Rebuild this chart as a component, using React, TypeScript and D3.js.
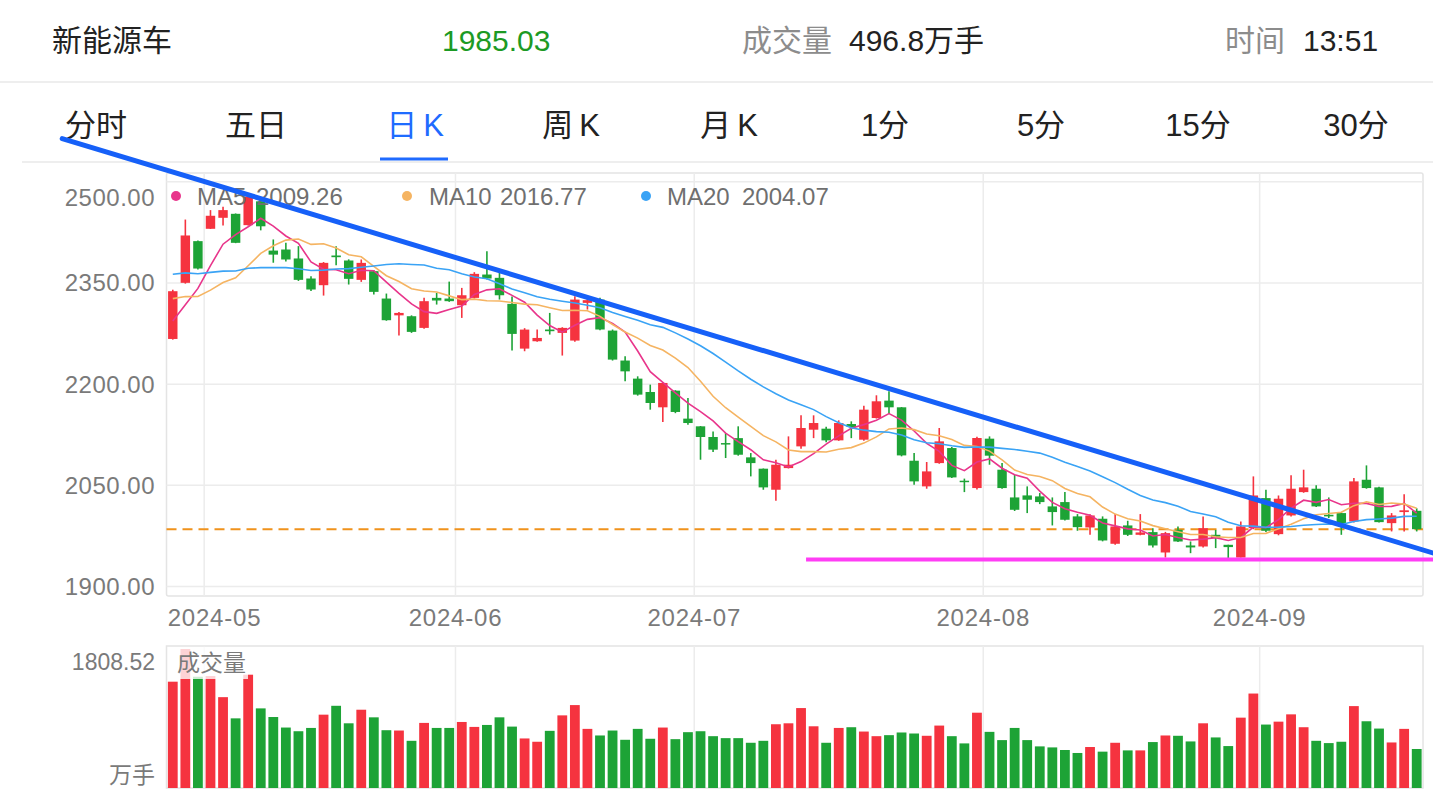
import React from "react";
import * as d3 from "d3";

// ---------- data ----------
const OPEN = [
  2267, 2350.2, 2412, 2430.3, 2446.6, 2452.5, 2435.7, 2471, 2398, 2399.6,
  2386.3, 2356.6, 2346.7, 2390.7, 2383.3, 2354.6, 2367.5, 2326.9, 2302, 2300.7,
  2283.4, 2327.9, 2326.9, 2317, 2327.9, 2362.5, 2357.6, 2319, 2252.7, 2263.6,
  2281, 2276, 2264.6, 2320.5, 2325.4, 2279.4, 2235, 2208.2, 2188.4, 2165.7,
  2190.4, 2148.9, 2137.5, 2121.7, 2112.7, 2120, 2091.5, 2074.7, 2043.5, 2075.6,
  2107.8, 2132.5, 2134, 2116.7, 2140.9, 2117.7, 2149.8, 2175.6, 2165.7, 2086.5,
  2048.5, 2083, 2105.3, 2056.9, 2046, 2119.2, 2073.2, 2032.1, 2035.1, 2033.6,
  2018.8, 2025.2, 2004, 1987.6, 2000.5, 1963.4, 1990.6, 1976.7, 1980.7, 1950.5,
  1984.2, 1960.9, 1959.4, 1976.7, 1961.9, 1943, 1986.6, 2031.1, 1977.7, 2005.4,
  2040, 2045, 2006.4, 2008.9, 1996.5, 2058.3, 2047, 1994, 2010.4, 2012.3,
];
const HIGH = [
  2340, 2444, 2413, 2458, 2463, 2453, 2482, 2475, 2414.5, 2409.5,
  2404.6, 2360, 2381, 2404.6, 2385, 2384.8, 2369, 2334.3, 2307, 2302,
  2328, 2335.3, 2352, 2342.7, 2366, 2397, 2365, 2330, 2283, 2281,
  2305.6, 2284.4, 2330.4, 2328, 2328, 2281, 2241.4, 2211.6, 2199.3, 2203,
  2191, 2179.5, 2138, 2130, 2127.6, 2137.5, 2097.9, 2075, 2088, 2122.6,
  2153.8, 2153.8, 2137, 2146.4, 2144.9, 2168, 2183.5, 2189.4, 2166, 2097.9,
  2084.6, 2135, 2107, 2060, 2122, 2122.6, 2083, 2065.8, 2048.5, 2038.6,
  2032.1, 2040, 2007.4, 2007, 2004, 2007.4, 1997.5, 2007.4, 1986.6, 1981,
  1989, 1966.8, 2004, 1984, 1962, 1996.5, 2063.3, 2043.5, 2035, 2064.8,
  2073.2, 2050, 2032.1, 2010, 2060.8, 2079.6, 2048, 2008.9, 2037, 2016,
];
const LOW = [
  2266, 2349, 2370, 2430, 2435, 2409, 2435, 2428, 2380, 2382,
  2353, 2338, 2331.3, 2376.4, 2347.7, 2351.6, 2332.8, 2294, 2272, 2276,
  2282, 2318, 2322, 2298.2, 2327, 2355, 2325.4, 2249.8, 2248.8, 2263,
  2273.5, 2242.4, 2263, 2310.6, 2280, 2235, 2204.2, 2183, 2162.2, 2143.9,
  2157, 2140, 2088, 2099.4, 2090.5, 2094, 2063.3, 2043.5, 2027.2, 2075,
  2104.3, 2120, 2114, 2116, 2120, 2116, 2149, 2155.8, 2093, 2051,
  2045, 2082, 2061, 2040, 2044, 2080.6, 2045, 2012, 2008.9, 2022.2,
  1990.6, 1998, 1982.7, 1976.7, 1967, 1962, 1975, 1976, 1958, 1943,
  1966, 1949.5, 1958, 1957, 1942, 1943, 1985, 1981, 1976, 2004,
  2039, 2018, 2001.5, 1976.7, 1995, 2045, 1995, 1981.7, 1981.7, 1981.7,
];
const CLOSE = [
  2337.8, 2420.4, 2371.4, 2449.6, 2458, 2409.5, 2478, 2434, 2392, 2384.8,
  2354.6, 2340.3, 2379.8, 2388.2, 2356.1, 2379.8, 2336.8, 2294.8, 2305.6, 2277.5,
  2323, 2324, 2323, 2331.8, 2363.5, 2356.6, 2331.8, 2274.5, 2280.9, 2268.5,
  2278.5, 2283.4, 2325.4, 2324.5, 2281, 2236.4, 2219, 2184.5, 2172.1, 2201.8,
  2158.8, 2142.4, 2121.7, 2102.9, 2111.2, 2095.4, 2083, 2047, 2080.6, 2080.6,
  2135, 2142.4, 2116.7, 2142.4, 2136.5, 2162.2, 2174.6, 2165.7, 2094.4, 2055.9,
  2070.7, 2115.2, 2061.8, 2055, 2120.2, 2094, 2046, 2013.8, 2028.7, 2025.2,
  2010.4, 1999, 1988.1, 2005.4, 1968.3, 1989.1, 1976.7, 1980.2, 1960.9, 1979.2,
  1966.8, 1958, 1986.6, 1971.8, 1958.5, 1989.1, 2035, 1982.7, 2030.2, 2045,
  2047, 2018.8, 2004, 1991.6, 2055.9, 2046, 1995.5, 2005.4, 2013, 1985.03,
];
// closes of the 19 sessions before the visible window (for the moving averages)
const PRE_CLOSES = [
  2380, 2395, 2410, 2420, 2405, 2400, 2415, 2390, 2385, 2390,
  2390, 2370, 2355, 2345, 2340, 2300, 2250, 2280, 2300,
];
const VOLUME = [
  1354, 1770, 1417, 1426, 1157, 887, 1443, 1014, 904, 770,
  723, 765, 934, 1047, 824, 997, 900, 736, 732, 601,
  829, 765, 765, 841, 778, 803, 900, 782, 631, 589,
  728, 925, 1056, 753, 669, 732, 614, 753, 627, 770,
  622, 711, 723, 660, 635, 635, 576, 601, 812, 824,
  1018, 786, 576, 765, 774, 719, 660, 673, 707, 694,
  665, 795, 660, 568, 959, 715, 610, 765, 610, 530,
  517, 484, 446, 522, 463, 576, 479, 479, 585, 669,
  665, 593, 824, 644, 534, 896, 1203, 808, 845, 938,
  774, 601, 572, 589, 1043, 850, 757, 580, 753, 496.8,
];
const VOL_MAX = 1808.52;
const PRICE_TICKS = [1900, 2050, 2200, 2350, 2500];
const MONTH_LABELS = ["2024-05", "2024-06", "2024-07", "2024-08", "2024-09"];
const MONTH_START = [3, 23, 42, 65, 87];
const MA_PERIODS = [5, 10, 20];
const MA_LEGEND_VALUES = ["2009.26", "2016.77", "2004.07"];
const TABS = ["分时", "五日", "日K", "周K", "月K", "1分", "5分", "15分", "30分"];
const ACTIVE_TAB = 2;
const STOCK_NAME = "新能源车";
const LAST_PRICE = 1985.03;
const LAST_VOLUME_TEXT = "496.8万手";
const TIME_TEXT = "13:51";
// user-drawn lines (data coordinates: candle index, price)
const TREND_ANCHORS = [
  { i: 7, p: 2475 },
  { i: 57, p: 2193.5 },
];
const TREND_EXTENT = [-8.8, 100.5];
const SUPPORT_PRICE = 1940;
const SUPPORT_START = 50.4;

// ---------- styles ----------
const RED = "#f5333f";
const GREEN = "#1da336";
const GRID = "#ececec";
const BORDER = "#e4e4e4";
const AXIS_TEXT = "#7a7a7a";
const MA_COLORS = ["#e8358b", "#f5b462", "#3aa3f5"];
const FONT = "'Liberation Sans', Arial, 'Noto Sans CJK SC', sans-serif";

export default function App() {
  const W = 1433;
  const H = 799;
  const N = CLOSE.length;
  const left = 166.5;
  const right = 1423;

  const x = d3.scaleBand<number>().domain(d3.range(N)).range([left, right]).padding(0);
  const bw = x.bandwidth();
  const cx = (i: number) => (x(0) as number) + bw * (i + 0.5);
  const y = d3.scaleLinear().domain([1886, 2513]).range([596, 173]);
  const yv = d3.scaleLinear().domain([0, VOL_MAX]).range([788, 646]);

  const allCloses = [...PRE_CLOSES, ...CLOSE];
  const off = PRE_CLOSES.length;
  const maSeries = MA_PERIODS.map((n) =>
    CLOSE.map((_, i) => d3.mean(allCloses.slice(i + off - n + 1, i + off + 1)) as number)
  );
  const line = d3
    .line<number>()
    .x((_, i) => cx(i))
    .y((d) => y(d))
    .curve(d3.curveLinear);

  const bodyW = bw * 0.75;
  const volW = bw * 0.78;

  // trend line extrapolation
  const [a, b] = TREND_ANCHORS;
  const slope = (b.p - a.p) / (b.i - a.i);
  const trendP = (i: number) => a.p + slope * (i - a.i);

  const tabCenters = [96, 256, 415, 571, 729, 885, 1041, 1198, 1356];

  return (
    <div style={{ position: "absolute", left: 0, top: 0, background: "#fff" }}>
      <svg width={W} height={H} style={{ display: "block", fontFamily: FONT }}>
        <rect x={0} y={0} width={W} height={H} fill="#fff" />

        {/* header */}
        <g fontSize={30}>
          <text x={52} y={51} fill="#222">{STOCK_NAME}</text>
          <text x={442} y={51} fill="#1c9a24">{LAST_PRICE.toFixed(2)}</text>
          <text x={742} y={51} fill="#8c8c8c">成交量</text>
          <text x={849} y={51} fill="#222">{LAST_VOLUME_TEXT}</text>
          <text x={1225} y={51} fill="#8c8c8c">时间</text>
          <text x={1303} y={51} fill="#222">{TIME_TEXT}</text>
        </g>
        <line x1={0} x2={W} y1={82} y2={82} stroke="#eeeeee" strokeWidth={2} />

        {/* tabs */}
        <g fontSize={31}>
          {TABS.map((t, i) => {
            const isK = t.endsWith("K");
            return (
              <text
                key={t}
                x={tabCenters[i]}
                y={136}
                textAnchor="middle"
                fill={i === ACTIVE_TAB ? "#1f6bff" : "#222"}
              >
                {isK ? (
                  <>
                    <tspan>{t.slice(0, -1)}</tspan>
                    <tspan dx={6}>K</tspan>
                  </>
                ) : (
                  t
                )}
              </text>
            );
          })}
        </g>
        <rect x={380} y={157.5} width={68} height={3} fill="#1f6bff" />
        <line x1={22} x2={W} y1={162} y2={162} stroke="#eeeeee" strokeWidth={2} />

        {/* price panel frame & grid */}
        <rect x={left} y={173} width={right - left} height={596 - 173} fill="none" stroke={BORDER} strokeWidth={1.5} rx={2} />
        {PRICE_TICKS.map((p) => (
          <line key={p} x1={left} x2={right} y1={y(p)} y2={y(p)} stroke={GRID} strokeWidth={1.5} />
        ))}
        {MONTH_START.map((s) => (
          <line key={"vg" + s} x1={x(s)} x2={x(s)} y1={173} y2={596} stroke={GRID} strokeWidth={1.5} />
        ))}

        {/* price axis labels */}
        <g fontSize={24} fill={AXIS_TEXT} textAnchor="end" letterSpacing={0.5}>
          {PRICE_TICKS.map((p) => {
            const yy = p === 2500 ? y(p) + 16 : y(p);
            return (
              <text key={p} x={155} y={yy + 8.5}>
                {p.toFixed(2)}
              </text>
            );
          })}
        </g>

        {/* date labels */}
        <g fontSize={24} fill={AXIS_TEXT} letterSpacing={0.8}>
          {MONTH_START.map((s, k) => {
            const half = 48;
            let c = x(s) as number;
            if (c - half < left) c = left + half;
            if (c + half > right) c = right - half;
            return (
              <text key={MONTH_LABELS[k]} x={c} y={626} textAnchor="middle">
                {MONTH_LABELS[k]}
              </text>
            );
          })}
        </g>

        {/* current price dashed line */}
        <line
          x1={left}
          x2={right}
          y1={y(LAST_PRICE)}
          y2={y(LAST_PRICE)}
          stroke="#f0921c"
          strokeWidth={2}
          strokeDasharray="10 6"
        />

        {/* candles */}
        {CLOSE.map((c, i) => {
          const o = OPEN[i];
          const up = c >= o;
          const col = up ? RED : GREEN;
          const top = y(Math.max(o, c));
          const h = Math.max(1.5, Math.abs(y(o) - y(c)));
          return (
            <g key={"c" + i}>
              <line x1={cx(i)} x2={cx(i)} y1={y(HIGH[i])} y2={y(LOW[i])} stroke={col} strokeWidth={1.6} />
              <rect x={cx(i) - bodyW / 2} y={top} width={bodyW} height={h} fill={col} />
            </g>
          );
        })}

        {/* moving averages */}
        {maSeries.map((s, k) => (
          <path key={"ma" + k} d={line(s) || ""} fill="none" stroke={MA_COLORS[k]} strokeWidth={1.6} />
        ))}

        {/* support line */}
        <line
          x1={cx(SUPPORT_START)}
          x2={W}
          y1={y(SUPPORT_PRICE)}
          y2={y(SUPPORT_PRICE)}
          stroke="#ff3df5"
          strokeWidth={4}
        />

        {/* MA legend */}
        <g fontSize={24} fill="#6f6f6f">
          {MA_PERIODS.map((n, k) => {
            const dotX = [176, 407, 646][k];
            const labX = [197, 429, 667][k];
            const valX = [256, 500, 742][k];
            return (
              <g key={"lg" + n}>
                <circle cx={dotX} cy={196} r={5} fill={MA_COLORS[k]} />
                <text x={labX} y={204.5}>{"MA" + n}</text>
                <text x={valX} y={204.5}>{MA_LEGEND_VALUES[k]}</text>
              </g>
            );
          })}
        </g>

        {/* volume panel */}
        <rect x={left} y={646} width={right - left} height={788 - 646} fill="none" stroke={BORDER} strokeWidth={1.5} />
        {MONTH_START.map((s) => (
          <line key={"vv" + s} x1={x(s)} x2={x(s)} y1={646} y2={788} stroke={GRID} strokeWidth={1.5} />
        ))}
        {VOLUME.map((v, i) => {
          const up = CLOSE[i] >= OPEN[i];
          return (
            <rect
              key={"v" + i}
              x={cx(i) - volW / 2}
              y={yv(v)}
              width={volW}
              height={788 - yv(v)}
              fill={up ? RED : GREEN}
            />
          );
        })}
        <rect x={176} y={647} width={72} height={32} fill="#fff" opacity={0.78} />
        <text x={177} y={671} fontSize={23} fill={AXIS_TEXT}>成交量</text>
        <g fontSize={23} fill={AXIS_TEXT} textAnchor="end">
          <text x={155} y={670}>{VOL_MAX.toFixed(2)}</text>
          <text x={155} y={783}>万手</text>
        </g>

        {/* trend line (drawn on top) */}
        <line
          x1={cx(TREND_EXTENT[0])}
          x2={cx(TREND_EXTENT[1])}
          y1={y(trendP(TREND_EXTENT[0]))}
          y2={y(trendP(TREND_EXTENT[1]))}
          stroke="#1660f8"
          strokeWidth={5}
          strokeLinecap="round"
        />
      </svg>
    </div>
  );
}
